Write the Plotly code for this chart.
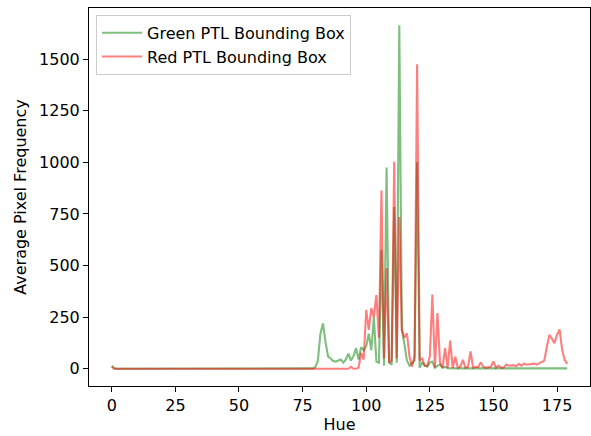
import plotly.graph_objects as go

hue = list(range(0, 180))

# Green PTL Bounding Box values (hue 0..179)
green_vals = [15, 2] + [0] * 77 + [
    2, 8, 40, 170, 220, 130, 60, 50, 38, 35,          # 79-88
    40, 45, 30, 45, 73, 40, 62, 100, 45, 105,         # 89-98
    90, 110, 170, 90, 250, 35, 30, 575, 15, 975,      # 99-108
    30, 20, 783, 30, 1664, 190, 120, 40, 15, 30,      # 109-118
    40, 1000, 5, 30, 15, 10, 30, 35, 5, 15,           # 119-128
    20, 5, 10, 3,                                      # 129-132
] + [2] * 47                                            # 133-179

# Red PTL Bounding Box values (hue 0..179)
red_vals = [10] + [0] * 93 + [
    10, 0, 0, 5, 77, 45, 285, 188, 294, 250,          # 94-103
    357, 150, 863, 50, 487, 30, 40, 1003, 50, 735,    # 104-113
    190, 150, 172, 60, 10, 60, 1475, 40, 50, 15,      # 114-123
    15, 60, 360, 5, 270, 30, 5, 100, 5, 137,          # 124-133
    5, 58, 5, 10, 43, 5, 10, 84, 5, 10,               # 134-143
    8, 32, 10, 5, 8, 10, 36, 5, 15, 5,                # 144-153
    5, 21, 15, 15, 18, 12, 24, 15, 25, 20,            # 154-163
    22, 25, 25, 20, 27, 33, 40, 108, 164, 145,        # 164-173
    124, 165, 191, 92, 43, 24,                        # 174-179
]

x_ticks = [0, 25, 50, 75, 100, 125, 150, 175]
y_ticks = [0, 250, 500, 750, 1000, 1250, 1500]

font = "DejaVu Sans"
fs = 16

fig = go.Figure()
fig.add_trace(go.Scatter(
    x=hue, y=green_vals, mode="lines", name="Green PTL Bounding Box",
    line=dict(color="rgb(0,128,0)", width=2.1), opacity=0.5,
))
fig.add_trace(go.Scatter(
    x=hue, y=red_vals, mode="lines", name="Red PTL Bounding Box",
    line=dict(color="rgb(255,0,0)", width=2.1), opacity=0.5,
))

axis_common = dict(
    showgrid=False, zeroline=False, showline=True, linecolor="black",
    linewidth=1, mirror=True, ticks="outside", ticklen=5, tickwidth=1,
    tickcolor="black", tickfont=dict(family=font, size=fs, color="black"),
    automargin=False,
)

fig.update_layout(
    width=591, height=436,
    margin=dict(l=89, r=1, t=8, b=50, autoexpand=False),
    paper_bgcolor="white", plot_bgcolor="white",
    font=dict(family=font, size=fs, color="black"),
    showlegend=True,
    legend=dict(
        x=0.014, y=0.982, xanchor="left", yanchor="top",
        bgcolor="rgba(255,255,255,0.8)", bordercolor="#cccccc", borderwidth=1,
        font=dict(family=font, size=fs, color="black"),
        tracegroupgap=0, itemwidth=40,
    ),
    xaxis=dict(
        range=[-8.95, 187.95], tickvals=x_ticks,
        title=dict(text="Hue", font=dict(family=font, size=fs), standoff=4),
        **axis_common,
    ),
    yaxis=dict(
        range=[-83.2, 1747], tickvals=y_ticks,
        title=dict(text="Average Pixel Frequency", font=dict(family=font, size=fs), standoff=8),
        **axis_common,
    ),
)

fig.write_html(
    "out.html",
    config={"displayModeBar": False},
    post_script="document.body.style.margin='0';document.body.style.overflow='hidden';",
)
